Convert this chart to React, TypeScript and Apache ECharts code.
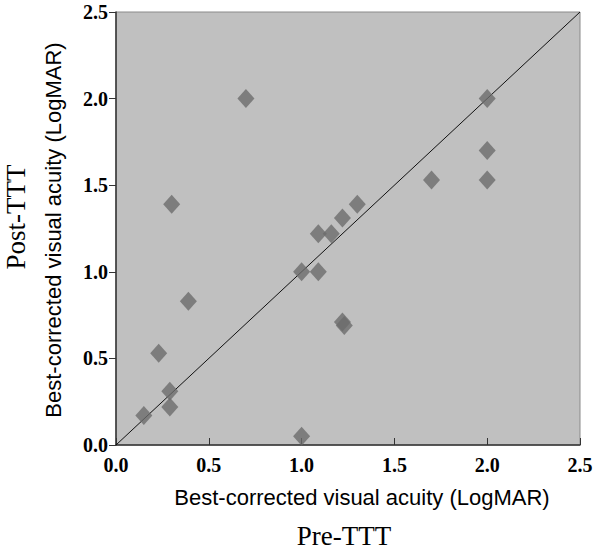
import React, { useEffect, useRef } from "react";
import * as echarts from "echarts";

const preTTT = [0.7, 0.3, 1.09, 1.16, 1.22, 1.3, 2.0, 2.0, 2.0, 1.7, 1.0, 1.09, 0.39, 0.23, 0.29, 0.29, 0.15, 1.0, 1.22, 1.23];
const postTTT = [2.0, 1.39, 1.22, 1.22, 1.31, 1.39, 2.0, 1.7, 1.53, 1.53, 1.0, 1.0, 0.83, 0.53, 0.31, 0.22, 0.17, 0.05, 0.71, 0.69];
const identityLine = [[0, 0], [2.5, 2.5]];
const axisTitle = "Best-corrected visual acuity (LogMAR)";
const xTitle = "Pre-TTT";
const yTitle = "Post-TTT";

export default function App() {
  const ref = useRef<HTMLDivElement>(null);
  useEffect(() => {
    document.body.style.margin = "0";
    const chart = echarts.init(ref.current!, undefined, { renderer: "svg" });
    const points = preTTT.map((x, i) => [x, postTTT[i]]);
    const tickLabel = {
      fontFamily: "Liberation Serif",
      fontSize: 20,
      fontWeight: "bold" as const,
      color: "#000",
      formatter: (v: number) => v.toFixed(1),
    };
    chart.setOption({
      animation: false,
      backgroundColor: "#fff",
      grid: {
        left: 116,
        right: 20,
        top: 12,
        bottom: 107,
        show: true,
        backgroundColor: "#c0c0c0",
        borderColor: "#8a8a8a",
        borderWidth: 1,
      },
      xAxis: {
        type: "value",
        min: 0,
        max: 2.5,
        interval: 0.5,
        splitLine: { show: false },
        axisLine: { lineStyle: { color: "#333", width: 1.5 } },
        axisTick: { inside: true, length: 7, lineStyle: { color: "#333" } },
        axisLabel: { ...tickLabel, margin: 10 },
      },
      yAxis: {
        type: "value",
        min: 0,
        max: 2.5,
        interval: 0.5,
        splitLine: { show: false },
        axisLine: { lineStyle: { color: "#333", width: 1.5 } },
        axisTick: { inside: false, length: 7, lineStyle: { color: "#333" } },
        axisLabel: { ...tickLabel, margin: 8 },
      },
      series: [
        {
          type: "line",
          data: identityLine,
          symbol: "none",
          lineStyle: { color: "#111", width: 1 },
          z: 2,
        },
        {
          type: "scatter",
          data: points,
          symbol: "diamond",
          symbolSize: [17, 19],
          itemStyle: { color: "#6c6c6c" },
          z: 3,
        },
      ],
      graphic: [
        {
          type: "text",
          x: 362,
          y: 497,
          style: {
            text: axisTitle,
            fontFamily: "Liberation Sans",
            fontSize: 22,
            fill: "#000",
            textAlign: "center",
            textVerticalAlign: "middle",
          },
        },
        {
          type: "text",
          x: 344,
          y: 536,
          style: {
            text: xTitle,
            fontFamily: "Liberation Serif",
            fontSize: 27,
            fill: "#000",
            textAlign: "center",
            textVerticalAlign: "middle",
          },
        },
        {
          type: "text",
          x: 16,
          y: 217,
          rotation: Math.PI / 2,
          style: {
            text: yTitle,
            fontFamily: "Liberation Serif",
            fontSize: 27,
            fill: "#000",
            textAlign: "center",
            textVerticalAlign: "middle",
          },
        },
        {
          type: "text",
          x: 53,
          y: 230,
          rotation: Math.PI / 2,
          style: {
            text: axisTitle,
            fontFamily: "Liberation Sans",
            fontSize: 22,
            fill: "#000",
            textAlign: "center",
            textVerticalAlign: "middle",
          },
        },
      ],
    });
    return () => chart.dispose();
  }, []);
  return <div ref={ref} style={{ width: 600, height: 552 }} />;
}
